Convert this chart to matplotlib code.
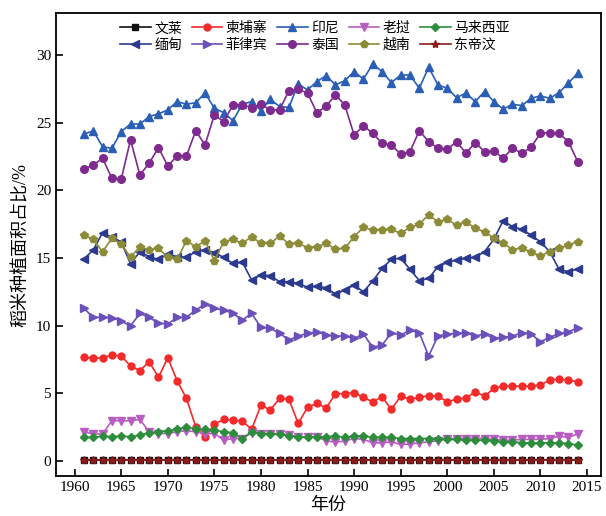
import numpy as np
import matplotlib
matplotlib.use("Agg")
import matplotlib.pyplot as plt

plt.rcParams['font.family'] = ['Liberation Serif', 'Noto Sans CJK SC']

# 年份
years = list(range(1961, 2015))

# 各国稻米种植面积占比 (%)
brunei = [0.05] * 54
cambodia = [7.66, 7.60, 7.63, 7.83, 7.78, 7.02, 6.68, 7.34, 6.19, 7.63,
            5.94, 4.63, 2.54, 1.75, 2.73, 3.08, 3.03, 2.96, 2.34, 4.14,
            3.77, 4.63, 4.58, 2.78, 3.97, 4.26, 3.92, 4.98, 4.98, 5.05,
            4.70, 4.38, 4.75, 3.82, 4.80, 4.58, 4.70, 4.83, 4.80, 4.38,
            4.58, 4.65, 5.12, 4.80, 5.37, 5.54, 5.54, 5.54, 5.54, 5.62,
            5.99, 6.06, 5.99, 5.86]
indonesia = [24.17, 24.39, 23.23, 23.10, 24.34, 24.90, 24.90, 25.45, 25.65, 25.94,
             26.56, 26.36, 26.48, 27.18, 26.07, 25.74, 25.15, 26.36, 26.56, 25.89,
             26.73, 26.19, 26.12, 27.86, 27.42, 28.03, 28.48, 27.79, 28.10, 28.77,
             28.21, 29.34, 28.77, 27.96, 28.52, 28.52, 27.54, 29.09, 27.79, 27.54,
             26.85, 27.18, 26.56, 27.30, 26.56, 26.00, 26.36, 26.26, 26.80, 26.98,
             26.80, 27.22, 27.92, 28.66]
laos = [2.17, 2.00, 2.00, 2.98, 2.98, 2.98, 3.08, 2.17, 2.04, 2.04,
        2.17, 2.24, 2.17, 2.04, 2.04, 1.55, 1.67, 1.67, 2.09, 2.04,
        2.04, 2.04, 1.92, 1.80, 1.75, 1.80, 1.50, 1.40, 1.48, 1.67,
        1.60, 1.35, 1.35, 1.43, 1.23, 1.26, 1.35, 1.43, 1.50, 1.67,
        1.67, 1.67, 1.67, 1.67, 1.60, 1.55, 1.55, 1.60, 1.60, 1.60,
        1.67, 1.85, 1.75, 2.00]
malaysia = [1.75, 1.75, 1.85, 1.80, 1.85, 1.80, 1.92, 2.09, 2.17, 2.24,
            2.34, 2.54, 2.34, 2.34, 2.29, 2.17, 2.09, 1.67, 2.17, 2.04,
            2.00, 2.00, 1.85, 1.80, 1.75, 1.80, 1.80, 1.85, 1.75, 1.85,
            1.85, 1.75, 1.75, 1.75, 1.67, 1.67, 1.67, 1.67, 1.67, 1.60,
            1.60, 1.55, 1.55, 1.55, 1.50, 1.43, 1.43, 1.35, 1.35, 1.35,
            1.35, 1.35, 1.30, 1.18]
myanmar = [14.93, 15.60, 16.87, 16.53, 16.20, 14.56, 15.47, 15.10, 14.90, 15.30,
           15.10, 15.05, 15.47, 15.60, 15.40, 15.05, 14.60, 14.70, 13.38, 13.75,
           13.70, 13.25, 13.25, 13.13, 12.84, 12.93, 12.80, 12.33, 12.64, 13.00,
           12.51, 13.30, 14.24, 14.90, 14.98, 14.17, 13.33, 13.50, 14.36, 14.68,
           14.86, 14.98, 15.05, 15.47, 16.38, 17.76, 17.32, 17.12, 16.70, 16.20,
           15.47, 14.17, 14.00, 14.19]
philippines = [11.28, 10.62, 10.62, 10.60, 10.35, 9.98, 10.91, 10.62, 10.18, 10.13,
               10.62, 10.62, 11.16, 11.60, 11.28, 11.16, 10.91, 10.42, 10.91, 9.88,
               9.81, 9.44, 8.94, 9.24, 9.44, 9.56, 9.31, 9.24, 9.24, 9.07,
               9.39, 8.40, 8.57, 9.48, 9.31, 9.68, 9.48, 7.76, 9.24, 9.39,
               9.43, 9.48, 9.24, 9.39, 9.07, 9.14, 9.24, 9.48, 9.39, 8.82,
               9.14, 9.43, 9.56, 9.83]
thailand = [21.56, 21.88, 22.37, 20.89, 20.82, 23.73, 21.14, 22.00, 23.16, 21.80,
            22.54, 22.54, 24.39, 23.36, 25.57, 25.08, 26.31, 26.31, 26.11, 26.36,
            25.94, 25.94, 27.37, 27.47, 27.18, 25.74, 26.21, 27.05, 26.31, 24.09,
            24.76, 24.22, 23.48, 23.36, 22.67, 22.86, 24.41, 23.60, 23.11, 23.04,
            23.60, 22.74, 23.53, 22.86, 22.92, 22.37, 23.11, 22.74, 23.19, 24.22,
            24.26, 24.22, 23.60, 22.12]
vietnam = [16.70, 16.38, 15.47, 16.46, 16.04, 15.05, 15.84, 15.60, 15.72, 15.05,
           14.90, 16.28, 15.84, 16.28, 14.80, 16.20, 16.38, 16.09, 16.58, 16.09,
           16.09, 16.63, 16.04, 16.10, 15.77, 15.84, 16.09, 15.65, 15.72, 16.58,
           17.27, 17.07, 17.07, 17.12, 16.83, 17.27, 17.52, 18.18, 17.69, 17.86,
           17.44, 17.69, 17.20, 16.95, 16.46, 16.14, 15.60, 15.77, 15.42, 15.18,
           15.47, 15.72, 15.96, 16.21]
timor = [0.05] * 54

names = ['文莱', '柬埔寨', '印尼', '老挝', '马来西亚',
         '缅甸', '菲律宾', '泰国', '越南', '东帝汶']
series = [brunei, cambodia, indonesia, laos, malaysia,
          myanmar, philippines, thailand, vietnam, timor]
colors = ['#111111', '#F22A2A', '#2A5FB5', '#B85EC2', '#2E8D3C',
          '#2B3A8F', '#6A50B8', '#7E2A8E', '#8C8C38', '#8B1C1C']
markers = ['s', 'o', '^', 'v', 'D', '<', '>', 'o', 'p', '*']
sizes = [4.5, 5, 5.5, 5.5, 4, 5.5, 5.5, 5.5, 5.5, 6]

fig = plt.figure(figsize=(6.06, 5.16), dpi=100)
ax = fig.add_axes([0.0924, 0.0775, 0.8993, 0.8973])

handles = []
for name, vals, c, m, s in zip(names, series, colors, markers, sizes):
    h, = ax.plot(years, vals, color=c, marker=m, markersize=s, linewidth=1.2, label=name)
    handles.append(h)

ax.set_xlim(1958, 2016.5)
ax.set_ylim(-1.1, 33.1)
ax.set_xticks(range(1960, 2016, 5))
ax.set_yticks(range(0, 31, 5))
ax.tick_params(direction='in', length=5, width=1.2, labelsize=11)
for sp in ax.spines.values():
    sp.set_linewidth(1.3)

ax.set_xlabel('年份', fontsize=13, labelpad=2)
ax.set_ylabel('稻米种植面积占比/%', fontsize=13, labelpad=4)

# 图例按行排列: 先第一行再第二行
order = [0, 5, 1, 6, 2, 7, 3, 8, 4, 9]
ax.legend([handles[i] for i in order], [names[i] for i in order],
          loc='upper center', bbox_to_anchor=(0.475, 1.0), ncol=5, frameon=False,
          fontsize=10, handlelength=2.2, handletextpad=0.25, columnspacing=0.7,
          labelspacing=0.25, borderaxespad=0.25)

fig.savefig('out.png', dpi=100)
